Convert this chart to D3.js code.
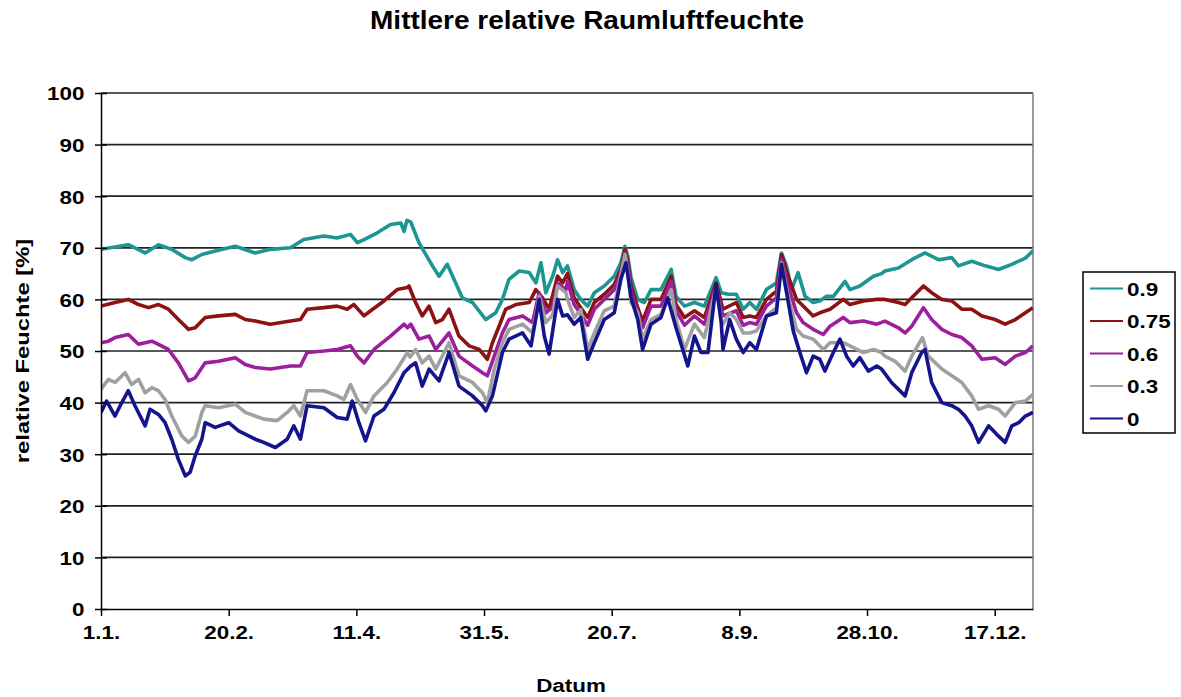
<!DOCTYPE html>
<html>
<head>
<meta charset="utf-8">
<script src="https://cdn.jsdelivr.net/npm/d3@7"></script>
<style>
  body { margin: 0; background: #fff; }
  svg { display: block; }
  text { font-family: "Liberation Sans", Arial, sans-serif; font-weight: bold; fill: #000; }
</style>
</head>
<body>
<svg id="chart" width="1181" height="697"></svg>
<script>
// values: [day of year, relative humidity %]
const s90 = [[0,69.7],[10.7,70.6],[17.3,69.0],[22.5,70.6],[27.7,69.7],[33,68.1],[35.6,67.7],[39.5,68.7],[44.7,69.4],[52.6,70.3],[60.4,69.0],
  [66.3,69.7],[74.2,70.0],[79.4,71.6],[87.3,72.3],[92.5,71.9],[97.7,72.6],[100.4,71.0],[103,71.6],[108.2,72.9],[113.4,74.5],[117.4,74.8],[118.7,73.2],[119.8,75.3],[121.3,75.0],
  [124.5,71.0],[129.8,66.5],[132.4,64.5],[135.6,66.8],[138.9,63.2],[141.5,60.3],[145.5,59.4],[150.7,56.1],[154.6,57.4],[157.2,60.0],[159.8,63.9],[163.8,65.5],[167.7,65.2],[170.3,63.2],[172.3,67.1],[174.2,61.3],[176.9,64.5],[178.8,67.7],[180.8,65.2],
  [182.7,66.5],[185.3,61.9],[187.9,60.0],[190.6,58.7],[193.2,61.3],[197.1,62.6],[201,64.5],[203.6,67.1],[205.2,70.3],[206.3,68.4],[207.6,64.2],[210.2,60.0],[212.8,59.4],[215.4,61.9],[219.3,61.9],[223.3,65.8],[225.2,60.6],[228.5,58.7],[232.4,59.4],[236.3,58.7],[240.9,64.2],[242.9,61.3],
  [245.6,61.0],[248.8,61.0],[251.5,58.1],[254.1,59.4],[256.7,58.1],[260.6,61.9],[264.5,63.2],[266.5,69.0],[268.5,66.5],[270.4,61.9],[273,65.2],[275.7,60.6],[278.9,59.4],[281.5,59.7],[284.2,60.6],[286.8,60.6],[291.4,63.5],[293.3,61.9],[297.2,62.6],[302.5,64.5],
  [305.7,65.0],[307,65.5],[312.3,66.1],[317.5,67.7],[322.7,69.0],[328,67.7],[333.2,68.1],[335.8,66.5],[341,67.4],[346.3,66.5],[351.5,65.8],[356.7,66.8],[362,68.0],[365,69.4]]

const s75 = [[0,58.7],[5.5,59.4],[10.7,60.0],[14.7,59.0],[18.6,58.4],[22.5,59.0],[26.4,58.1],[30.3,56.1],[34.3,54.2],[36.9,54.5],[40.8,56.5],[46,56.8],[52.6,57.1],[56.5,56.1],[60.4,55.8],
  [66.3,55.2],[74.2,55.8],[78.1,56.1],[80.7,58.1],[87.3,58.4],[92.5,58.7],[96.4,58.1],[99,59.0],[103,56.8],[105.6,57.8],[110.8,59.7],[116,61.9],[120,62.3],
  [120.6,62.6],[123.2,59.4],[125.8,56.8],[128.5,58.7],[131.1,55.5],[133.7,56.1],[136.3,58.1],[140.2,52.9],[144.2,51.0],[148.1,50.3],[151.3,48.4],[153.3,51.6],[155.9,54.8],[158.5,58.1],[162.5,59.0],[167.7,59.4],[170.3,61.9],[172.9,60.3],[175.5,58.1],[178.8,64.5],[180.8,63.2],
  [182.7,65.0],[185.3,60.3],[187.9,58.4],[190.6,56.5],[193.2,59.4],[197.1,61.0],[201,62.9],[203.6,65.8],[205.2,69.7],[206.3,67.4],[207.6,62.6],[210.2,58.4],[212.1,55.8],[215.4,60.0],[219.3,60.0],[223.3,64.5],[225.2,59.0],[228.5,56.5],[232.4,57.8],[236.3,56.5],[240.9,63.2],[242.9,59.4],
  [243.6,58.1],[248.8,59.4],[251.5,56.5],[254.1,56.8],[256.7,56.5],[260.6,60.0],[264.5,61.6],[266.5,68.7],[269.1,64.5],[272.4,60.0],[275,58.7],[278.9,56.8],[281.5,57.4],[285.5,58.1],[290.7,60.0],[293.3,59.0],[298.6,59.7],[303.8,60.0],
  [307,60.0],[312.3,59.4],[314.9,59.0],[317.5,60.3],[322.1,62.6],[325.3,61.3],[329.3,60.0],[333.2,59.7],[337.1,58.1],[341,58.1],[345,56.8],[350.2,56.1],[354.1,55.2],[358.1,56.1],[362,57.4],[365,58.4]]

const s60 = [[0,51.6],[2.9,51.9],[5.5,52.6],[10.7,53.2],[14.7,51.3],[19.9,51.9],[22.5,51.3],[26.4,50.3],[30.3,47.7],[34.3,44.2],[36.9,44.8],[40.8,47.7],[46,48.0],[52.6,48.7],[56.5,47.4],[60.4,46.8],
  [66.3,46.5],[74.2,47.1],[78.1,47.1],[80.7,49.7],[87.3,50.0],[92.5,50.3],[97.7,51.0],[100.4,49.0],[103,47.7],[106.9,50.3],[113.4,52.9],[118.7,55.2],[120,54.5],
  [121.3,55.2],[124.5,52.3],[128.5,52.9],[131.1,50.3],[136.3,53.5],[140.2,49.0],[145.5,47.1],[149.4,45.8],[151.3,45.2],[154,49.0],[157.2,53.5],[159.8,56.1],[165.1,56.8],[169,55.5],[171.6,61.3],[174.2,57.4],[176.9,58.5],[178.8,63.2],[182.1,61.9],
  [182.7,63.5],[185.3,59.0],[187.9,57.1],[190.6,55.0],[193.2,58.1],[197.1,60.0],[201,61.9],[203.6,65.0],[205.2,69.0],[206.3,66.5],[207.6,61.3],[210.2,57.4],[212.1,54.5],[215.4,58.7],[219.3,58.7],[223.3,63.5],[225.2,57.8],[228.5,55.0],[232.4,56.8],[236.3,55.2],[240.9,62.6],[242.9,58.1],
  [243.6,56.8],[248.8,57.8],[251.5,55.0],[254.1,55.5],[256.7,55.2],[260.6,58.7],[264.5,60.3],[266.5,67.7],[269.1,62.6],[272.4,57.4],[275,55.5],[278.9,54.2],[282.9,53.2],[285.5,54.8],[290.7,56.5],[293.3,55.5],[298.6,55.8],[303.8,55.2],
  [307,55.8],[312.3,54.5],[314.9,53.5],[317.5,54.8],[322.1,58.4],[325.3,56.1],[329.3,54.2],[333.2,53.2],[337.1,52.6],[341,51.0],[345,48.4],[350.2,48.7],[354.1,47.4],[358.1,49.0],[362,49.7],[365,51.0]]

const s30 = [[0,42.6],[2.9,44.5],[5.5,43.9],[9.4,45.8],[12,43.5],[14.7,44.5],[17.3,41.9],[19.9,42.9],[22.5,42.3],[25.1,40.6],[27.7,37.4],[31.7,33.5],[34.3,32.3],[36.9,33.5],[39.5,38.1],[40.8,39.4],[46,39.0],[52.6,39.7],[56.5,38.1],[60.4,37.4],
  [63.7,36.8],[69,36.5],[72.9,38.1],[75.5,39.4],[78.1,37.4],[80.7,42.3],[87.3,42.3],[92.5,41.3],[95.1,40.6],[97.7,43.5],[100.4,40.6],[103.6,38.1],[106.9,41.3],[112.1,43.9],[116,46.5],[120,49.7],
  [121,48.8],[123.2,50.3],[125.8,47.7],[128.5,49.0],[131.1,46.5],[136.3,51.6],[140.2,45.2],[145.5,43.9],[149.4,41.9],[151.3,40.0],[154,46.5],[157.2,51.6],[159.8,54.2],[165.1,55.2],[169,53.5],[171.6,60.6],[174.2,55.5],[176.9,57.0],[178.8,62.6],[182.1,61.3],
  [182.7,60.0],[185.3,56.5],[187.9,58.0],[190.6,50.3],[193.2,53.5],[197.1,57.8],[201,58.7],[203.6,64.8],[205.2,68.7],[206.3,65.2],[207.6,59.4],[210.2,57.4],[212.1,52.3],[215.4,56.1],[219.3,57.1],[223.3,61.9],[225.2,56.1],[228.5,50.3],[232.4,55.2],[236.3,52.6],[240.9,62.3],[242.9,56.1],
  [243.6,55.2],[246.2,57.4],[248.8,56.1],[251.5,53.5],[254.1,53.5],[256.7,53.9],[260.6,56.8],[264.5,58.4],[266.5,67.1],[269.1,60.6],[272.4,54.2],[275,52.9],[278.9,52.3],[282.9,50.3],[285.5,51.6],[290.7,51.6],[293.3,51.0],[298.6,49.7],[302.5,50.3],
  [305.7,49.7],[307,49.0],[311,48.0],[314.9,46.1],[317.5,49.0],[321.7,52.6],[324,49.0],[329.3,46.5],[333.2,45.2],[337.1,43.9],[341,41.3],[343.7,38.7],[347.6,39.4],[351.5,38.7],[354.1,37.4],[358.1,40.0],[362,40.3],[365,41.6]]

const s00 = [[0,38.1],[2.2,40.3],[5.5,37.4],[7.5,39.4],[10.7,42.3],[13.3,39.4],[17.3,35.5],[19.2,38.7],[22.5,37.7],[25.1,36.1],[27.7,32.9],[30.3,29.0],[33,25.8],[34.9,26.5],[36.9,29.7],[39.5,32.9],[40.8,36.1],[44.7,35.2],[50,36.1],[53.9,34.5],[60.4,32.9],
  [63.7,32.3],[68.3,31.3],[72.9,32.9],[75.5,35.5],[78.1,32.9],[80.7,39.4],[87.3,39.0],[92.5,37.1],[96.4,36.8],[98.4,40.3],[101,36.1],[103.6,32.6],[106.9,37.4],[110.8,38.7],[114.7,41.9],[118.7,45.8],[121.3,47.1],
  [123.2,47.7],[125.8,43.2],[128.5,46.5],[132.4,44.2],[136.3,49.7],[140.2,43.2],[145.5,41.3],[149.4,39.4],[150.7,38.4],[153.3,41.3],[157.2,49.7],[159.8,52.3],[165.1,53.5],[168.4,51.0],[171.6,60.0],[173.6,52.9],[175.5,49.4],[178.8,60.0],[180.8,56.8],
  [182.7,57.0],[185.3,55.2],[187.9,56.5],[190.6,48.4],[193.2,51.6],[197.1,56.1],[201,57.4],[203.6,63.9],[205.6,67.1],[207.6,60.3],[210.2,56.1],[212.1,50.3],[215.4,55.2],[219.3,56.5],[221.9,60.3],[225.2,54.5],[229.8,47.1],[232.4,52.9],[235,49.7],[237.7,49.7],[240.9,62.9],[242.9,55.5],
  [243.6,50.3],[246.2,56.1],[248.8,52.3],[251.5,49.7],[254.1,51.6],[256.7,50.3],[260.6,56.8],[264.5,57.4],[266.5,66.8],[268.5,61.3],[271.1,53.9],[273.7,49.7],[276.3,45.8],[278.9,49.0],[281.5,48.4],[283.5,46.1],[286.8,49.7],[289.4,52.3],[292,49.0],[294.6,47.1],[297.2,48.7],[300.5,46.1],[303.8,47.1],
  [305.7,46.5],[309.6,43.9],[314.9,41.3],[317.5,45.8],[321.4,49.7],[322.7,50.3],[325.3,43.9],[329.3,40.0],[333.2,39.4],[335.8,38.7],[338.4,37.4],[341,35.5],[343.7,32.3],[347.6,35.5],[351.5,33.5],[354.1,32.3],[356.7,35.5],[359.4,36.1],[362,37.4],[365,38.1]]

const seriesNames = ['0.9', '0.75', '0.6', '0.3', '0']
const seriesData = [s90, s75, s60, s30, s00]
const seriesColors = ['#1b9690', '#8e1212', '#9c1f9c', '#a0a0a0', '#14148c']

const xTickDays = [0, 50, 100, 150, 200, 250, 300, 350]
const xTickLabels = ['1.1.', '20.2.', '11.4.', '31.5.', '20.7.', '8.9.', '28.10.', '17.12.']
const yTicks = [0, 10, 20, 30, 40, 50, 60, 70, 80, 90, 100]

// layout
const svg = d3.select('#chart')
const plot = { left: 101, right: 1033, top: 93, bottom: 609 }
const stretch = 1.18

const x = d3.scaleLinear().domain([0, 365]).range([plot.left, plot.right])
const y = d3.scaleLinear().domain([0, 100]).range([plot.bottom, plot.top])

// gridlines
svg.append('g')
  .selectAll('line')
  .data(yTicks.filter(d => d > 0))
  .join('line')
  .attr('x1', plot.left).attr('x2', plot.right)
  .attr('y1', d => y(d)).attr('y2', d => y(d))
  .attr('stroke', '#222')
  .attr('stroke-width', 1.7)

// right border of plot area
svg.append('line')
  .attr('x1', plot.right).attr('x2', plot.right)
  .attr('y1', plot.top).attr('y2', plot.bottom)
  .attr('stroke', '#7a7a7a')
  .attr('stroke-width', 1.5)

// series
svg.append('clipPath').attr('id', 'clip')
  .append('rect')
  .attr('x', plot.left).attr('y', plot.top)
  .attr('width', plot.right - plot.left).attr('height', plot.bottom - plot.top)

const line = d3.line()
  .x(d => x(d[0]))
  .y(d => y(d[1]))

const lines = svg.append('g').attr('clip-path', 'url(#clip)')
seriesData.forEach((data, i) => {
  lines.append('path')
    .datum(data)
    .attr('fill', 'none')
    .attr('stroke', seriesColors[i])
    .attr('stroke-width', 3.6)
    .attr('stroke-linejoin', 'round')
    .attr('d', line)
})

// y axis
const yAxis = svg.append('g')
  .attr('transform', 'translate(' + plot.left + ',0)')
  .call(d3.axisLeft(y).tickValues(yTicks).tickSize(6).tickSizeOuter(0).tickPadding(8))
yAxis.select('.domain').attr('stroke', '#000').attr('stroke-width', 1.5)
yAxis.selectAll('.tick line').attr('x1', 6).attr('stroke', '#000').attr('stroke-width', 1.5)
yAxis.selectAll('.tick text')
  .attr('x', -16.5 / stretch)
  .attr('dy', '0.36em')
  .attr('transform', 'scale(' + stretch + ',1)')
  .style('font-size', '19px')
  .style('font-family', '"Liberation Sans", Arial, sans-serif')
  .style('font-weight', 'bold')

// x axis
const xAxis = svg.append('g')
  .attr('transform', 'translate(0,' + plot.bottom + ')')
  .call(d3.axisBottom(x)
    .tickValues(xTickDays)
    .tickFormat((d, i) => xTickLabels[i])
    .tickSize(7)
    .tickSizeOuter(0))
xAxis.select('.domain').attr('stroke', '#000').attr('stroke-width', 1.5)
xAxis.selectAll('.tick line').attr('stroke', '#000').attr('stroke-width', 1.5)
xAxis.selectAll('.tick text')
  .attr('y', 30)
  .attr('dy', 0)
  .attr('transform', 'scale(' + stretch + ',1)')
  .style('font-size', '19px')
  .style('font-family', '"Liberation Sans", Arial, sans-serif')
  .style('font-weight', 'bold')

// titles
svg.append('text')
  .attr('transform', 'translate(587,29) scale(1.12,1)')
  .attr('text-anchor', 'middle')
  .style('font-size', '25px')
  .text('Mittlere relative Raumluftfeuchte')

svg.append('text')
  .attr('transform', 'translate(571,692) scale(' + stretch + ',1)')
  .attr('text-anchor', 'middle')
  .style('font-size', '19px')
  .text('Datum')

svg.append('text')
  .attr('transform', 'translate(29,351) rotate(-90) scale(1.25,1)')
  .attr('text-anchor', 'middle')
  .style('font-size', '19px')
  .text('relative Feuchte [%]')

// legend
const legend = svg.append('g').attr('transform', 'translate(1083,272)')
legend.append('rect')
  .attr('width', 92).attr('height', 161)
  .attr('fill', '#fff')
  .attr('stroke', '#000')
  .attr('stroke-width', 1.5)

seriesNames.forEach((name, i) => {
  const row = legend.append('g').attr('transform', 'translate(0,' + (16.5 + i * 32.5) + ')')
  row.append('line')
    .attr('x1', 7).attr('x2', 40)
    .attr('stroke', seriesColors[i])
    .attr('stroke-width', 2)
  row.append('text')
    .attr('transform', 'translate(44,7) scale(' + stretch + ',1)')
    .style('font-size', '19px')
    .text(name)
})
</script>
</body>
</html>
